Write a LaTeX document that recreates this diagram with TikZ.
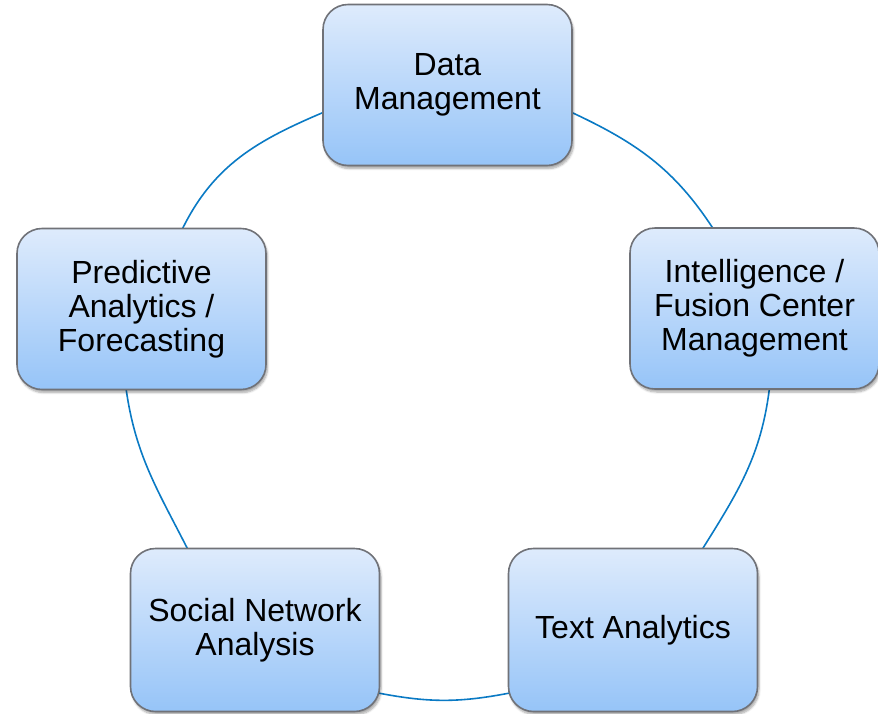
\documentclass[tikz,border=0pt]{standalone}
\usepackage{fontspec}
\setmainfont{Liberation Sans}
\usetikzlibrary{shadows.blur,backgrounds}
\definecolor{boxtop}{RGB}{222,235,252}
\definecolor{boxbot}{RGB}{150,196,248}
\definecolor{boxline}{RGB}{112,114,120}
\definecolor{arcblue}{RGB}{10,122,196}
\tikzset{
  cyclebox/.style={draw=boxline, line width=1.6pt, rounded corners=25pt,
    top color=boxtop, bottom color=boxbot, minimum width=249pt,
    minimum height=161pt, align=center, inner sep=0pt,
    font=\fontsize{32}{34}\selectfont,
    blur shadow={shadow xshift=1.5pt, shadow yshift=-3pt, shadow blur steps=6, shadow opacity=35}},
  cyclearc/.style={draw=arcblue, line width=1.6pt}
}
\begin{document}
\begin{tikzpicture}[x=1pt,y=1pt]
\useasboundingbox (0,0) rectangle (878,-713);
\node[cyclebox] (dm) at (447.5,-85) {Data\\Management};
\node[cyclebox] (ifc) at (754.5,-308.5) {Intelligence /\\Fusion Center\\Management};
\node[cyclebox, minimum height=163pt] (ta) at (633,-630) {Text Analytics};
\node[cyclebox, minimum height=163pt] (sna) at (255,-630) {Social Network\\Analysis};
\node[cyclebox] (pa) at (141.5,-309) {Predictive\\Analytics /\\Forecasting};
\begin{scope}[on background layer]
\draw[cyclearc] ([yshift=-27pt,xshift=2pt]dm.west) to[out=203,in=64] ([xshift=40.5pt,yshift=-2pt]pa.north);
\draw[cyclearc] ([xshift=-15.5pt,yshift=2pt]pa.south) to[out=278,in=117] ([xshift=-67pt,yshift=-2pt]sna.north);
\draw[cyclearc] ([yshift=-63pt,xshift=-2pt]sna.east) to[out=349,in=191] ([yshift=-63pt,xshift=2pt]ta.west);
\draw[cyclearc] ([xshift=69pt,yshift=-2pt]ta.north) to[out=58,in=263] ([xshift=15pt,yshift=2pt]ifc.south);
\draw[cyclearc] ([xshift=-41pt,yshift=-2pt]ifc.north) to[out=123,in=335] ([yshift=-27pt,xshift=-2pt]dm.east);
\end{scope}
\end{tikzpicture}
\end{document}
